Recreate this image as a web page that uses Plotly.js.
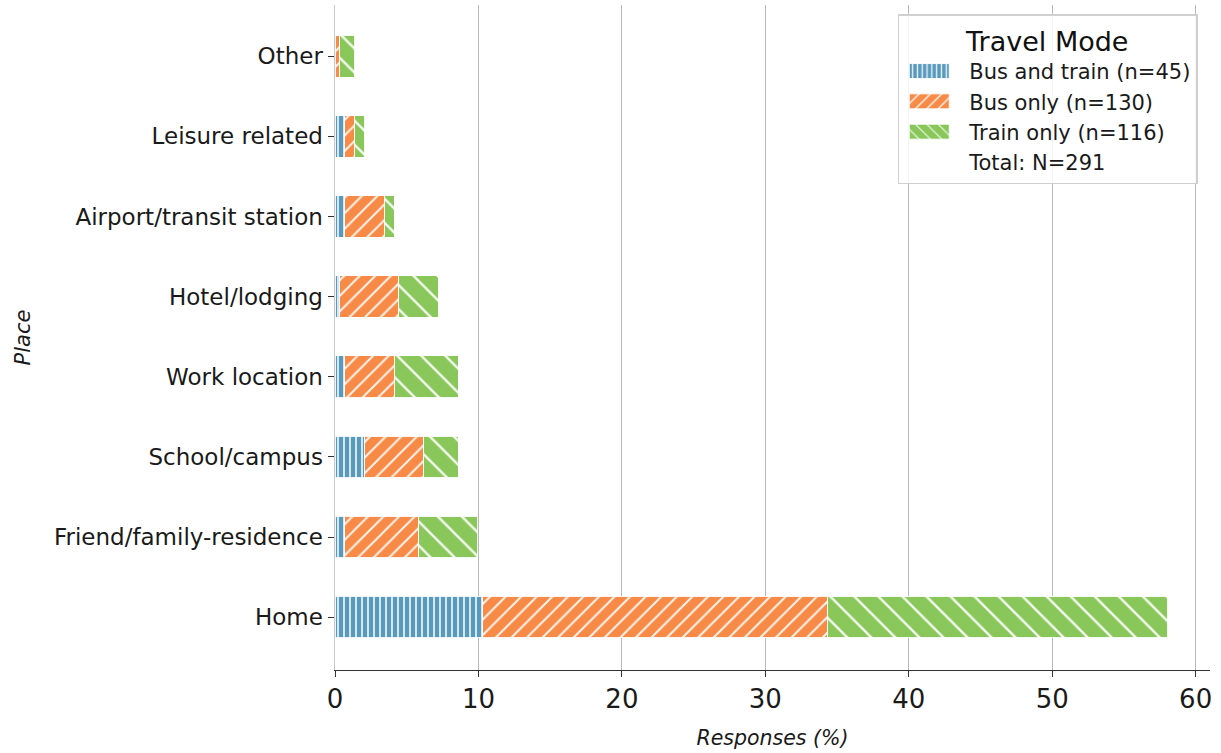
<!DOCTYPE html>
<html>
<head>
<meta charset="utf-8">
<script src="https://cdn.plot.ly/plotly-3.0.1.min.js"></script>
<style>
  html, body { margin: 0; padding: 0; background: #fff; }
  #chart { width: 1221px; height: 753px; }
</style>
</head>
<body>
<div id="chart"></div>
<script>
// Places, bottom to top
const places = [
  "Home",
  "Friend/family-residence",
  "School/campus",
  "Work location",
  "Hotel/lodging",
  "Airport/transit station",
  "Leisure related",
  "Other"
];

// Share of all responses (%), N = 291
const busAndTrain = [10.31, 0.69, 2.06, 0.69, 0.34, 0.69, 0.69, 0.00];
const busOnly     = [24.05, 5.15, 4.12, 3.44, 4.12, 2.75, 0.69, 0.34];
const trainOnly   = [23.71, 4.12, 2.41, 4.47, 2.75, 0.69, 0.69, 1.03];

const seriesNames = [
  "Bus and train (n=45)",
  "Bus only (n=130)",
  "Train only (n=116)"
];
const totalLabel = "Total: N=291";

const xTicks = [0, 10, 20, 30, 40, 50, 60];

const colors = ["#5899be", "#f88a47", "#8ac75b"];
const shapes = ["|", "/", "\\"];
const sizes = [6, 11, 17];
const solid = [0.28, 0.18, 0.14];

const font = "DejaVu Sans, sans-serif";

const traces = [busAndTrain, busOnly, trainOnly].map((vals, i) => ({
  type: "bar",
  orientation: "h",
  name: seriesNames[i],
  y: places,
  x: vals,
  width: 0.52,
  marker: {
    color: colors[i],
    line: { color: "rgba(255,255,255,0.9)", width: 1 },
    pattern: {
      shape: shapes[i],
      fillmode: "overlay",
      fgcolor: "#ffffff",
      fgopacity: 0.9,
      size: sizes[i],
      solidity: solid[i]
    }
  },
  hoverinfo: "x+y+name"
}));

// Legend-only entry carrying the overall sample size
traces.push({
  type: "scatter",
  mode: "none",
  x: [null],
  y: [null],
  name: totalLabel,
  showlegend: true,
  hoverinfo: "skip"
});

const layout = {
  width: 1221,
  height: 753,
  barmode: "stack",
  paper_bgcolor: "#ffffff",
  plot_bgcolor: "#ffffff",
  margin: { l: 335, r: 11, t: 5, b: 83 },
  font: { family: font, color: "#1a1a1a" },
  xaxis: {
    range: [0, 61],
    tickvals: xTicks,
    ticktext: xTicks.map(String),
    ticks: "outside",
    ticklen: 6,
    tickwidth: 1,
    tickcolor: "#333",
    tickfont: { size: 26, family: font, color: "#1a1a1a" },
    showgrid: true,
    gridcolor: "#b8b8b8",
    gridwidth: 1,
    zeroline: false,
    showline: true,
    linecolor: "#333",
    linewidth: 1,
    title: {
      text: "<i>Responses (%)</i>",
      font: { size: 20.5, family: font, color: "#1a1a1a" },
      standoff: 17
    }
  },
  yaxis: {
    type: "category",
    categoryorder: "array",
    categoryarray: places,
    range: [-0.66, 7.64],
    ticks: "outside",
    ticklen: 6,
    tickwidth: 1,
    tickcolor: "#333",
    tickfont: { size: 23, family: font, color: "#1a1a1a" },
    showgrid: false,
    zeroline: false,
    showline: true,
    linecolor: "#c8c8c8",
    linewidth: 1.5,
    title: {
      text: "<i>Place</i>",
      font: { size: 21, family: font, color: "#1a1a1a" },
      standoff: 17
    }
  },
  legend: {
    x: 0.986,
    y: 0.986,
    xanchor: "right",
    yanchor: "top",
    bgcolor: "rgba(255,255,255,0.85)",
    bordercolor: "#d0d0d0",
    borderwidth: 1.5,
    font: { size: 21, family: font, color: "#1a1a1a" },
    title: { text: "Travel Mode", font: { size: 27, family: font, color: "#111" }, side: "top center" },
    traceorder: "normal",
    itemwidth: 60,
    tracegroupgap: 0
  },
  showlegend: true
};

// Widen the bar keys in the legend into flat swatches
function widenLegendKeys(gd) {
  gd.querySelectorAll(".legend .legendpoints path").forEach(p => {
    const d = p.getAttribute("d") || "";
    if (/^M6,6H-6V-6H6Z$/.test(d)) {
      p.setAttribute("d", "M15,7.5H-25V-7.5H15Z");
    }
  });
}

Plotly.newPlot("chart", traces, layout, { displayModeBar: false, staticPlot: true })
  .then(widenLegendKeys);
</script>
</body>
</html>
